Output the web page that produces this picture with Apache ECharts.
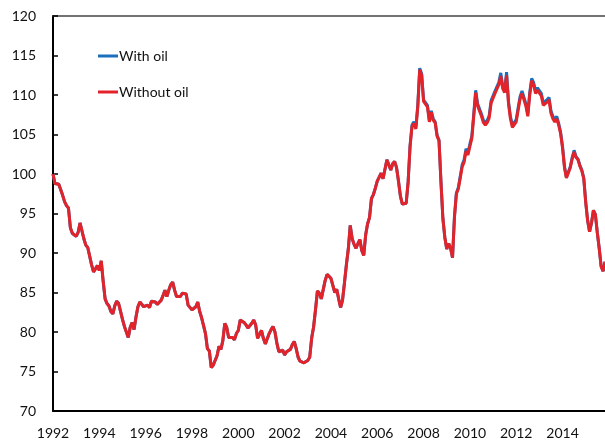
<!DOCTYPE html>
<html>
<head>
<meta charset="utf-8">
<script src="https://cdn.jsdelivr.net/npm/echarts@6/dist/echarts.min.js"></script>
<style>
  html, body { margin: 0; padding: 0; background: #fff; }
  #chart { width: 605px; height: 445px; }
</style>
</head>
<body>
<div id="chart"></div>
<script>
// monthly index, Jan 1992 .. Nov 2015
const startYear = 1992;
const yTicks = [70, 75, 80, 85, 90, 95, 100, 105, 110, 115, 120];
const seriesNames = ["With oil", "Without oil"];

const withoutOil = [
  100.0, 98.8, 98.6, 98.7, 98.9, 97.3, 96.5, 96.0, 95.7, 93.2, 92.5, 92.3,
  92.1, 92.6, 93.8, 93.9, 91.8, 91.0, 90.7, 90.9, 88.5, 87.6, 87.5, 88.4,
  87.8, 89.0, 86.4, 84.2, 83.6, 83.3, 82.6, 82.3, 83.3, 83.9, 83.6, 82.6,
  81.6, 80.7, 80.9, 79.3, 80.6, 81.2, 80.3, 81.9, 83.2, 83.8, 83.9, 83.2,
  83.0, 83.4, 83.1, 83.9, 84.1, 83.8, 83.5, 83.3, 84.0, 84.6, 85.3, 84.5,
  85.3, 86.0, 86.3, 85.3, 84.5, 84.3, 84.5, 84.9, 84.9, 84.8, 83.4, 83.2,
  82.8, 82.6, 83.2, 83.8, 82.6, 81.8, 80.8, 79.8, 77.9, 77.6, 75.5, 75.8,
  75.7, 77.0, 78.2, 77.8, 78.9, 81.1, 80.6, 79.3, 79.1, 79.3, 79.0, 79.8,
  80.2, 81.5, 81.7, 81.2, 80.9, 80.5, 80.7, 81.1, 81.5, 80.9, 79.2, 79.7,
  80.2, 79.2, 78.5, 78.7, 79.8, 80.3, 80.7, 80.0, 78.6, 77.5, 77.3, 77.7,
  77.1, 77.5, 77.7, 77.8, 78.4, 78.8, 77.9, 76.8, 76.3, 76.2, 76.1, 76.2,
  76.4, 76.8, 79.2, 80.6, 82.8, 85.2, 84.9, 84.2, 84.0, 86.5, 87.3, 87.2,
  86.8, 86.9, 85.0, 85.4, 84.2, 83.1, 84.0, 86.2, 88.5, 90.5, 93.5, 91.8,
  91.1, 90.6, 91.2, 91.7, 90.3, 89.7, 92.3, 93.7, 94.5, 96.9, 97.4, 98.2,
  99.1, 99.0, 100.1, 99.4, 100.6, 101.8, 101.6, 100.5, 101.3, 101.6, 100.8, 99.1,
  97.2, 96.2, 96.3, 96.3, 99.0, 103.5, 106.0, 106.4, 105.7, 108.5, 113.2, 112.5,
  109.2, 109.4, 108.5, 106.6, 107.8, 106.8, 106.5, 104.8, 104.2, 99.0, 94.4, 92.0,
  90.5, 91.2, 90.6, 89.4, 94.5, 97.5, 98.1, 99.5, 100.9, 101.5, 102.9, 102.4,
  103.5, 104.5, 107.3, 110.3, 108.6, 108.4, 107.3, 106.5, 106.2, 106.5, 107.1, 109.0,
  109.6, 110.2, 110.4, 111.3, 112.4, 110.8, 110.3, 112.5, 108.9, 107.0, 105.9, 105.8,
  106.6, 108.1, 109.5, 110.2, 110.2, 108.6, 107.3, 110.0, 111.8, 111.3, 110.2, 110.6,
  110.8, 109.9, 108.7, 108.6, 109.1, 109.4, 107.7, 107.0, 106.6, 107.0, 106.2, 105.1,
  103.3, 100.8, 99.5, 99.7, 100.8, 101.9, 102.8, 102.1, 101.8, 101.0, 100.4, 99.4,
  96.4, 94.1, 92.7, 93.8, 95.4, 94.9, 92.6, 90.6, 88.3, 87.7, 88.9
];

const withOil = [
  100.0, 98.8, 98.6, 98.7, 98.9, 97.3, 96.5, 96.0, 95.7, 93.2, 92.5, 92.3,
  92.1, 92.6, 93.8, 93.9, 91.8, 91.0, 90.7, 90.9, 88.5, 87.6, 87.5, 88.4,
  87.8, 89.0, 86.4, 84.2, 83.6, 83.3, 82.6, 82.3, 83.3, 83.9, 83.6, 82.6,
  81.6, 80.7, 80.9, 79.3, 80.6, 81.2, 80.3, 81.9, 83.2, 83.8, 83.9, 83.2,
  83.0, 83.4, 83.1, 83.9, 84.1, 83.8, 83.5, 83.3, 84.0, 84.6, 85.3, 84.5,
  85.3, 86.0, 86.3, 85.3, 84.5, 84.3, 84.5, 84.9, 84.9, 84.8, 83.4, 83.2,
  82.8, 82.6, 83.2, 83.8, 82.6, 81.8, 80.8, 79.8, 77.9, 77.6, 75.5, 75.8,
  75.7, 77.0, 78.2, 77.8, 78.9, 81.1, 80.6, 79.3, 79.1, 79.3, 79.0, 79.8,
  80.2, 81.5, 81.7, 81.2, 80.9, 80.5, 80.7, 81.1, 81.5, 80.9, 79.2, 79.7,
  80.2, 79.2, 78.5, 78.7, 79.8, 80.3, 80.7, 80.0, 78.6, 77.5, 77.3, 77.7,
  77.1, 77.5, 77.7, 77.8, 78.4, 78.8, 77.9, 76.8, 76.3, 76.2, 76.1, 76.2,
  76.4, 76.8, 79.2, 80.6, 82.8, 85.2, 84.9, 84.2, 84.0, 86.5, 87.3, 87.2,
  86.8, 86.9, 85.0, 85.4, 84.2, 83.1, 84.0, 86.2, 88.5, 90.5, 93.5, 91.8,
  91.1, 90.6, 91.2, 91.7, 90.3, 89.7, 92.3, 93.7, 94.5, 96.9, 97.4, 98.2,
  99.1, 99.0, 100.1, 99.4, 100.6, 101.8, 101.6, 100.5, 101.3, 101.6, 100.8, 99.1,
  97.2, 96.2, 96.3, 96.3, 99.0, 103.6, 106.2, 106.6, 105.9, 108.7, 113.4, 112.7,
  109.4, 109.6, 108.7, 106.8, 108.0, 107.0, 106.6, 104.9, 104.3, 99.1, 94.4, 92.0,
  90.5, 91.2, 90.6, 89.4, 94.6, 97.6, 98.3, 99.7, 101.2, 101.8, 103.2, 102.7,
  103.8, 104.8, 107.6, 110.6, 108.9, 108.7, 107.6, 106.8, 106.5, 106.8, 107.4, 109.3,
  109.9, 110.5, 110.7, 111.6, 112.8, 111.1, 110.6, 112.9, 109.2, 107.3, 106.2, 106.1,
  106.9, 108.4, 109.8, 110.5, 110.5, 108.9, 107.6, 110.3, 112.1, 111.6, 110.5, 110.9,
  111.1, 110.2, 109.0, 108.9, 109.4, 109.7, 108.0, 107.3, 106.9, 107.3, 106.4, 105.3,
  103.5, 101.0, 99.6, 99.8, 100.9, 102.1, 103.0, 102.2, 101.9, 101.1, 100.5, 99.5,
  96.5, 94.1, 92.7, 93.8, 95.4, 94.9, 92.6, 90.6, 88.3, 87.7, 88.9
];

const months = [];
for (let i = 0; i < withoutOil.length; i++) {
  months.push(startYear + Math.floor(i / 12) + "-" + String((i % 12) + 1).padStart(2, "0"));
}

const font = "Lato, 'Open Sans', sans-serif";
const chart = echarts.init(document.getElementById("chart"), null, { renderer: "canvas" });

chart.setOption({
  backgroundColor: "#fff",
  animation: false,
  textStyle: { fontFamily: font },
  legend: {
    orient: "vertical",
    left: 93,
    top: 44,
    itemGap: 22,
    itemWidth: 20,
    itemHeight: 3,
    icon: "rect",
    data: seriesNames,
    textStyle: { fontSize: 14, color: "#111", fontFamily: font, padding: [0, 0, 0, -4] },
  },
  grid: { left: 53, right: 0, top: 16, bottom: 34, containLabel: false },
  xAxis: [
    {
      type: "category",
      data: months,
      boundaryGap: false,
      axisLine: { lineStyle: { color: "#000", width: 2 } },
      axisTick: { show: false },
      axisLabel: {
        interval: (idx) => idx % 24 === 0,
        formatter: (v) => v.slice(0, 4),
        color: "#111",
        fontSize: 14,
        margin: 15,
        fontFamily: font,
      },
      splitLine: { show: false },
    },
    {
      type: "category",
      data: months,
      position: "top",
      boundaryGap: false,
      axisLine: { lineStyle: { color: "#444", width: 1.5 } },
      axisTick: { show: false },
      axisLabel: { show: false },
    },
  ],
  yAxis: {
    type: "value",
    min: yTicks[0],
    max: yTicks[yTicks.length - 1],
    interval: 5,
    axisLine: { show: true, lineStyle: { color: "#000", width: 2 } },
    axisTick: { show: true, inside: true, length: 5, lineStyle: { color: "#000", width: 1.5 } },
    axisLabel: { color: "#111", fontSize: 14, margin: 17, fontFamily: font },
    splitLine: { show: false },
  },
  series: [
    {
      name: seriesNames[0],
      type: "line",
      data: withOil,
      showSymbol: false,
      symbol: "none",
      lineStyle: { color: "#1a6fbf", width: 3 },
      itemStyle: { color: "#1a6fbf" },
    },
    {
      name: seriesNames[1],
      type: "line",
      data: withoutOil,
      showSymbol: false,
      symbol: "none",
      lineStyle: { color: "#e3232a", width: 3 },
      itemStyle: { color: "#e3232a" },
    },
  ],
});
</script>
</body>
</html>
